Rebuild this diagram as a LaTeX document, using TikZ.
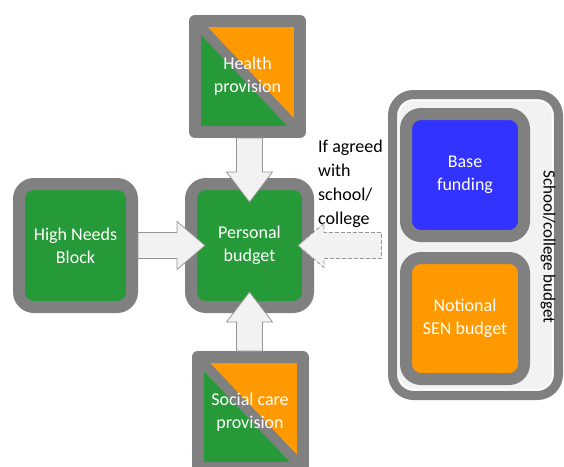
\documentclass[tikz,border=0pt]{standalone}
\usepackage{fontspec}
\setmainfont{Carlito}
\usetikzlibrary{calc}
\definecolor{boxgreen}{RGB}{38,154,56}
\definecolor{boxorange}{RGB}{255,153,0}
\definecolor{boxblue}{RGB}{51,51,255}
\definecolor{boxgray}{RGB}{128,128,128}
\definecolor{arrowfill}{RGB}{242,242,242}
\definecolor{arrowline}{RGB}{150,150,150}
\begin{document}
\begin{tikzpicture}[x=1pt,y=-1pt,
  boxtext/.style={text=white, align=center, font=\fontsize{18}{23}\selectfont},
  roundbox/.style={draw=boxgray, line width=12pt, rounded corners=15pt, inner sep=0pt, outer sep=0pt, boxtext},
  splitbox/.style={draw=boxgray, line width=12pt, line join=round, fill=boxgreen, inner sep=0pt, outer sep=0pt, boxtext,
    minimum width=105pt, minimum height=111pt,
    path picture={
      \fill[boxorange] (path picture bounding box.north west) -- (path picture bounding box.north east) -- (path picture bounding box.south east) -- cycle;
      \draw[boxgray, line width=10pt] (path picture bounding box.north west) -- (path picture bounding box.south east);
    }},
  fatarr/.style={fill=arrowfill, draw=arrowline, line width=0.8pt, line join=miter},
  dasharr/.style={fatarr, dash pattern=on 4pt off 2pt}
]
\useasboundingbox (0,0) rectangle (564,466);

% school / college budget container
\node[draw=boxgray, line width=9pt, rounded corners=21pt, fill=arrowfill, inner sep=0pt, outer sep=0pt,
      minimum width=166pt, minimum height=301pt] (school) at (475.5,245) {};
\draw[white, line width=1.2pt, rounded corners=15pt]
  ($(school.north west)+(6,6)$) rectangle ($(school.south east)+(-6,-6)$);

% boxes
\node[roundbox, fill=boxgreen, minimum width=117pt, minimum height=123pt] (pb) at (249.5,245.5) {Personal\\budget};
\node[roundbox, fill=boxgreen, minimum width=113pt, minimum height=123pt] (hnb) at (75.5,245.5) {High Needs\\Block};
\node[splitbox] (health) at (247.5,76.5) {Health\\provision};
\node[splitbox] (social) at (250,412.5) {Social care\\provision};
\node[roundbox, fill=boxblue, minimum width=118pt, minimum height=122pt] (base) at (465,175) {Base\\funding};
\node[roundbox, fill=boxorange, minimum width=118pt, minimum height=121pt] (sen) at (465,318.5) {Notional\\SEN budget};

% labels
\node[rotate=-90, font=\fontsize{17}{20}\selectfont, inner sep=0pt] (schoollabel) at (548,247) {School/college budget};
\node[anchor=west, align=left, font=\fontsize{18}{24}\selectfont, inner sep=0pt] (agreed) at (318,184) {If agreed\\with\\school/\\college};

% block arrows into the personal budget
\draw[fatarr] ($(pb.west)+(14,0)$) -- ++(-28,-24) -- ++(0,11) -- ($(hnb.east)+(6,-13)$) -- ++(0,26)
  -- ($(pb.west)+(-14,13)$) -- ++(0,11) -- cycle;
\draw[fatarr] ($(pb.north)+(0,18)$) -- ++(-23,-30) -- ++(10,0) -- ($(pb.north |- health.south)+(-13,6)$) -- ++(26,0)
  -- ($(pb.north)+(13,-12)$) -- ++(10,0) -- cycle;
\draw[fatarr] ($(pb.south)+(0,-15)$) -- ++(-23,30) -- ++(10,0) -- ($(pb.south |- social.north)+(-13,-6)$) -- ++(26,0)
  -- ($(pb.south)+(13,15)$) -- ++(10,0) -- cycle;
\draw[dasharr] ($(pb.east)+(-10,0)$) -- ++(26,-22) -- ++(0,9) -- ($(pb.east -| school.west)+(-11,-13)$) -- ++(0,26)
  -- ($(pb.east)+(16,13)$) -- ++(0,9) -- cycle;
\end{tikzpicture}
\end{document}
